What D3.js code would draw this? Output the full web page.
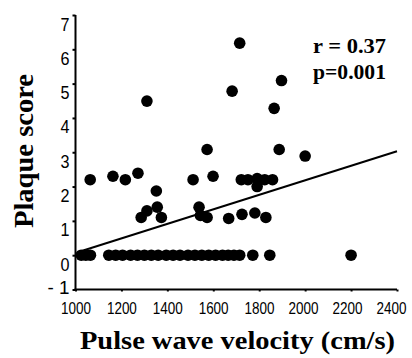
<!DOCTYPE html>
<html>
<head>
<meta charset="utf-8">
<script src="https://cdn.jsdelivr.net/npm/d3@7"></script>
<style>
  body { margin: 0; background: #fff; }
  svg { display: block; }
</style>
</head>
<body>
<div id="chart"></div>
<script>
// pulse wave velocity (cm/s)
const pwv = [
  1025, 1045, 1065,
  1145, 1175, 1205, 1240, 1270, 1300, 1330, 1360, 1395, 1425, 1455, 1490,
  1520, 1550, 1580, 1610, 1640, 1665, 1690, 1715, 1772, 1846, 2200,
  1286, 1311, 1356, 1374, 1352,
  1538, 1544, 1573, 1667, 1725, 1781, 1829,
  1064, 1163, 1217, 1272, 1512, 1599, 1722, 1751, 1791, 1791, 1824, 1858,
  1311, 1715, 1897, 1682, 1865, 1573, 1887, 2000
];
// plaque score
const plaque = [
  0, 0, 0,
  0, 0, 0, 0, 0, 0, 0, 0, 0, 0, 0, 0,
  0, 0, 0, 0, 0, 0, 0, 0, 0, 0, 0,
  1.1, 1.29, 1.4, 1.1, 1.87,
  1.4, 1.16, 1.1, 1.07, 1.19, 1.23, 1.1,
  2.2, 2.3, 2.2, 2.39, 2.2, 2.3, 2.2, 2.2, 2.0, 2.23, 2.2, 2.2,
  4.49, 6.18, 5.09, 4.78, 4.28, 3.08, 3.08, 2.89
];
const fitX = [1030, 2400];
const fitY = [0.13, 3.03];
const xTicks = [1000, 1200, 1400, 1600, 1800, 2000, 2200, 2400];
const yTicks = [-1, 0, 1, 2, 3, 4, 5, 6, 7];
const stats = ['r = 0.37', 'p=0.001'];

const width = 412, height = 358;
const svg = d3.select('#chart').append('svg')
  .attr('width', width)
  .attr('height', height);

const x = d3.scaleLinear().domain([1000, 2400]).range([75.5, 397]);
const y = d3.scaleLinear().domain([-1, 7]).range([289.5, 15]);
// tick labels sit a little left of their ticks toward the right end
const xLab = d3.scaleLinear().domain([1000, 1800, 2400]).range([75.5, 259, 391]);

// x axis
const gx = svg.append('g')
  .attr('transform', `translate(0,${y(-1)})`)
  .call(d3.axisBottom(x).tickValues(xTicks).tickSize(2).tickFormat(d3.format('d')));
gx.select('.domain').attr('stroke-width', 2).attr('d', `M${x(1000) - 1},0H${x(2400)}`);
gx.selectAll('.tick line').attr('stroke-width', 2);
gx.selectAll('.tick text')
  .attr('y', 24).attr('dy', 0)
  .attr('x', d => xLab(d) - x(d))
  .attr('font-family', 'Liberation Sans, Arial, sans-serif')
  .attr('font-size', 17)
  .attr('fill', '#000')
  .attr('textLength', 30)
  .attr('lengthAdjust', 'spacingAndGlyphs');

// y axis
const gy = svg.append('g')
  .attr('transform', `translate(${x(1000)},0)`)
  .call(d3.axisLeft(y).tickValues(yTicks).tickSize(3).tickFormat(d => d < 0 ? '- ' + Math.abs(d) : d));
gy.select('.domain').attr('stroke-width', 2).attr('d', `M0,${y(7)}V${y(-1) + 1}`);
gy.selectAll('.tick line').attr('stroke-width', 2);
gy.selectAll('.tick text')
  .attr('x', -6).attr('dy', 0).attr('y', d => d < 0 ? 4 : 15)
  .attr('font-family', 'Liberation Sans, Arial, sans-serif')
  .attr('font-size', 19)
  .attr('fill', '#000')
  .attr('textLength', d => d < 0 ? 22 : 9)
  .attr('lengthAdjust', 'spacingAndGlyphs');
svg.selectAll('.domain, .tick line').attr('stroke', '#000');

// fit line
svg.append('line')
  .attr('x1', x(fitX[0])).attr('y1', y(fitY[0]))
  .attr('x2', x(fitX[1])).attr('y2', y(fitY[1]))
  .attr('stroke', '#000')
  .attr('stroke-width', 2);

// points
svg.append('g')
  .selectAll('circle')
  .data(d3.range(pwv.length))
  .join('circle')
  .attr('cx', i => x(pwv[i]))
  .attr('cy', i => y(plaque[i]))
  .attr('r', 5.8)
  .attr('fill', '#000');

// stats text
svg.selectAll('.stat')
  .data(stats)
  .join('text')
  .attr('class', 'stat')
  .attr('x', 313)
  .attr('y', (d, i) => 53 + i * 26)
  .attr('font-family', 'Liberation Serif, Times New Roman, serif')
  .attr('font-weight', 'bold')
  .attr('font-size', 21)
  .attr('textLength', 73)
  .attr('lengthAdjust', 'spacingAndGlyphs')
  .text(d => d);

// axis titles
svg.append('text')
  .attr('x', 237.5)
  .attr('y', 349)
  .attr('text-anchor', 'middle')
  .attr('font-family', 'Liberation Serif, Times New Roman, serif')
  .attr('font-weight', 'bold')
  .attr('font-size', 26)
  .attr('textLength', 315)
  .attr('lengthAdjust', 'spacingAndGlyphs')
  .text('Pulse wave velocity (cm/s)');

svg.append('text')
  .attr('transform', 'translate(33,151) rotate(-90)')
  .attr('text-anchor', 'middle')
  .attr('font-family', 'Liberation Serif, Times New Roman, serif')
  .attr('font-weight', 'bold')
  .attr('font-size', 27)
  .attr('textLength', 154)
  .attr('lengthAdjust', 'spacingAndGlyphs')
  .text('Plaque score');
</script>
</body>
</html>
